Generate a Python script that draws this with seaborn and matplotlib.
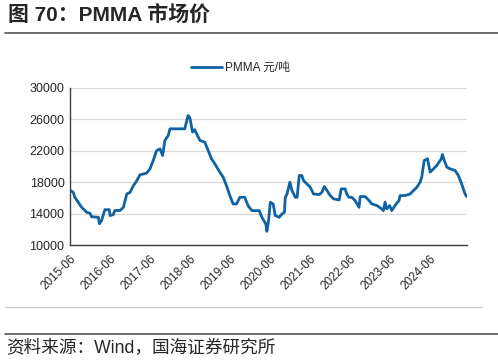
import pandas as pd
import seaborn as sns
import matplotlib.pyplot as plt
from matplotlib.lines import Line2D

# PMMA price, yuan/ton
dates = [
    '2015-06-01', '2015-07-01', '2015-07-15', '2015-08-15', '2015-09-15', '2015-11-01',
    '2015-12-01', '2015-12-15', '2016-02-15', '2016-02-25', '2016-03-15', '2016-04-15',
    '2016-05-25', '2016-06-01', '2016-07-01', '2016-07-15', '2016-09-01', '2016-10-01',
    '2016-11-01', '2016-12-01', '2017-01-01', '2017-02-01', '2017-03-01', '2017-05-01',
    '2017-06-01', '2017-07-01', '2017-08-01', '2017-09-01', '2017-09-25', '2017-10-15',
    '2017-11-15', '2017-12-01', '2018-03-01', '2018-04-15', '2018-05-15', '2018-06-01',
    '2018-06-25', '2018-07-15', '2018-08-01', '2018-09-01', '2018-10-15', '2018-11-15',
    '2018-12-15', '2019-01-15', '2019-03-01', '2019-04-01', '2019-05-01', '2019-06-01',
    '2019-07-01', '2019-08-01', '2019-09-01', '2019-10-15', '2019-11-15', '2019-12-20',
    '2020-02-25', '2020-03-20', '2020-04-25', '2020-05-05', '2020-05-20', '2020-06-05',
    '2020-07-01', '2020-07-20', '2020-08-25', '2020-09-20', '2020-10-12', '2020-10-20',
    '2020-11-05', '2020-12-01', '2020-12-20', '2021-01-20', '2021-02-05', '2021-02-25',
    '2021-03-20', '2021-04-05', '2021-05-05', '2021-06-05', '2021-07-05', '2021-08-25',
    '2021-09-20', '2021-10-12', '2021-11-05', '2021-12-05', '2022-01-05', '2022-02-25',
    '2022-03-15', '2022-04-20', '2022-05-05', '2022-05-25', '2022-06-20', '2022-07-20',
    '2022-08-25', '2022-09-05', '2022-10-20', '2022-11-25', '2022-12-20', '2023-02-05',
    '2023-03-20', '2023-04-05', '2023-04-20', '2023-05-05', '2023-06-01', '2023-06-20',
    '2023-07-20', '2023-08-25', '2023-09-05', '2023-10-20', '2023-12-05', '2024-01-05',
    '2024-02-05', '2024-03-05', '2024-03-20', '2024-04-12', '2024-05-12', '2024-06-05',
    '2024-07-05', '2024-08-05', '2024-08-25', '2024-09-15', '2024-09-25', '2024-10-12',
    '2024-11-05', '2024-12-05', '2025-01-20', '2025-02-18', '2025-03-20', '2025-04-20',
    '2025-05-05',
]
prices = [
    17000, 16700, 16080, 15450, 14800, 14170,
    14040, 13600, 13530, 12700, 13100, 14500,
    14500, 13750, 13880, 14400, 14400, 14800,
    16500, 16700, 17570, 18200, 18940, 19150,
    19700, 20770, 22040, 22250, 21400, 23300,
    23960, 24800, 24800, 24800, 26500, 26200,
    24380, 24700, 24170, 23320, 23100, 22040,
    20980, 20340, 19280, 18640, 17570, 16300,
    15230, 15230, 16080, 16080, 15000, 14380,
    14380, 13530, 12680, 11740, 13100, 15450,
    15230, 13750, 13530, 13960, 14170, 16080,
    16500, 18000, 16940, 16080, 16080, 18850,
    18850, 18210, 17790, 17360, 16500, 16420,
    16720, 17450, 16940, 16300, 15870, 15740,
    17150, 17150, 16500, 16080, 16080, 15660,
    14800, 16170, 16170, 15660, 15230, 15020,
    14600, 14380, 15450, 14600, 15020, 14380,
    15020, 15660, 16300, 16300, 16500, 16940,
    17360, 18000, 18640, 20770, 20980, 19280,
    19700, 20130, 20550, 20980, 21530, 20770,
    19910, 19700, 19490, 18850, 17790, 16500,
    16170,
]
tick_labels = ['2015-06', '2016-06', '2017-06', '2018-06', '2019-06',
               '2020-06', '2021-06', '2022-06', '2023-06', '2024-06']
y_ticks = [10000, 14000, 18000, 22000, 26000, 30000]

df = pd.DataFrame({'date': pd.to_datetime(dates), 'price': prices})

sns.set_theme(style='white')
plt.rcParams['font.family'] = ['Liberation Sans', 'Noto Sans CJK SC']

line_color = '#0f62a3'

fig = plt.figure(figsize=(4.98, 3.61), dpi=100)
ax = fig.add_axes([70 / 498, 1 - 245 / 361, 397 / 498, 157 / 361])

sns.lineplot(data=df, x='date', y='price', ax=ax, color=line_color, linewidth=2.0)

ax.set_xlim(pd.Timestamp('2015-06-01'), pd.Timestamp('2025-05-08'))
ax.set_ylim(10000, 30000)
ax.set_yticks(y_ticks)
ax.set_yticklabels([str(v) for v in y_ticks], fontsize=9)
ax.set_xticks(pd.to_datetime([t + '-01' for t in tick_labels]))
ax.set_xticklabels(tick_labels, rotation=45, ha='right', rotation_mode='anchor', fontsize=8.5)
ax.tick_params(axis='x', direction='in', length=4, width=0.8, color='#404040', pad=6)
ax.tick_params(axis='y', length=0, pad=4)
ax.set_xlabel('')
ax.set_ylabel('')

ax.grid(axis='y', color='#d9d9d9', linewidth=0.9)
ax.set_axisbelow(True)
for side in ['top', 'right']:
    ax.spines[side].set_visible(False)
for side in ['left', 'bottom']:
    ax.spines[side].set_color('#404040')
    ax.spines[side].set_linewidth(1.0)

handles = [Line2D([0], [0], color=line_color, linewidth=2)]
ax.legend(handles, ['PMMA 元/吨'], loc='lower center', bbox_to_anchor=(0.43, 1.02),
          frameon=False, fontsize=8.5, handlelength=2.6, handletextpad=0.3)

# title, rules and source note
fig.text(8 / 498, 1 - 15 / 361, '图 70：PMMA 市场价', fontsize=15, fontweight='bold',
         va='center', ha='left')
fig.add_artist(Line2D([5 / 498, 1], [1 - 33 / 361] * 2, color='#555555', linewidth=1.2))
fig.add_artist(Line2D([5 / 498, 482 / 498], [1 - 307 / 361] * 2, color='#c8c8c8', linewidth=0.8))
fig.add_artist(Line2D([5 / 498, 1], [1 - 334 / 361] * 2, color='#555555', linewidth=1.2))
fig.text(6 / 498, 1 - 348 / 361, '资料来源：Wind，国海证券研究所', fontsize=12.7,
         va='center', ha='left')

fig.savefig('out.png', dpi=100)
